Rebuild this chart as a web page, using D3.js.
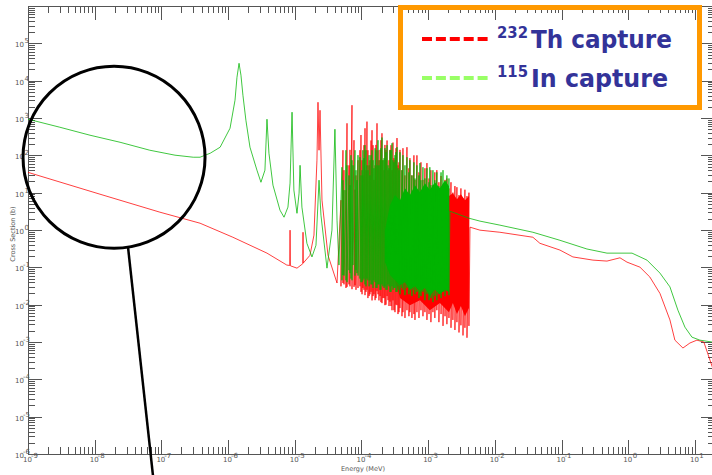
<!DOCTYPE html>
<html>
<head>
<script src="https://d3js.org/d3.v7.min.js"></script>
<style>
  body { margin: 0; background: #fff; }
  svg { display: block; font-family: "DejaVu Sans", sans-serif; }
  .tick-label { font-size: 7px; fill: #555; }
  .axis-title { font-size: 6.5px; fill: #555; }
  .legend-text { font-weight: bold; fill: #333399; }
</style>
</head>
<body>
<svg id="chart" width="712" height="475"></svg>
<script>
// ---- data: energy (MeV), capture cross section (b) ----

// 232Th, smooth 1/v part and first resolved resonances
const thLow = [
  [1e-9, 35], [1.2e-8, 9.1], [9.5e-8, 3.0], [3.8e-7, 1.52], [1.18e-6, 0.64],
  [3.83e-6, 0.24], [7.6e-6, 0.115], [8.4e-6, 0.112], [8.5e-6, 0.99], [8.6e-6, 0.11],
  [1.08e-5, 0.095], [1.32e-5, 0.125], [1.33e-5, 0.87], [1.34e-5, 0.13],
  [1.69e-5, 0.21], [1.94e-5, 0.73], [2.15e-5, 74], [2.23e-5, 2640], [2.31e-5, 137],
  [2.39e-5, 1610], [2.56e-5, 6.3], [3.15e-5, 0.21], [4.3e-5, 0.038]
];
// 232Th, dense resonance region: [energy, peak, valley]
const thResonances = [
  [4.93e-5, 6.3, 0.031], [5.28e-5, 137, 0.038], [5.47e-5, 40, 0.035], [5.86e-5, 11.7, 0.028],
  [6.07e-5, 720, 0.030], [6.50e-5, 54, 0.035], [6.73e-5, 140, 0.031], [7.21e-5, 2200, 0.026],
  [7.73e-5, 254, 0.030], [8.00e-5, 12, 0.033], [8.28e-5, 29, 0.025], [8.87e-5, 74, 0.028],
  [9.50e-5, 137, 0.031], [9.84e-5, 350, 0.022], [1.02e-4, 74, 0.019], [1.05e-4, 29, 0.028],
  [1.09e-4, 187, 0.025], [1.13e-4, 530, 0.018], [1.17e-4, 40, 0.022], [1.21e-4, 800, 0.025],
  [1.25e-4, 137, 0.015], [1.30e-4, 54, 0.017], [1.34e-4, 74, 0.019], [1.39e-4, 250, 0.022],
  [1.44e-4, 470, 0.013], [1.49e-4, 187, 0.017], [1.54e-4, 22, 0.019], [1.60e-4, 54, 0.0132],
  [1.65e-4, 190, 0.015], [1.71e-4, 720, 0.023], [1.77e-4, 137, 0.019], [1.83e-4, 74, 0.013],
  [1.90e-4, 140, 0.017], [1.96e-4, 254, 0.0117], [2.03e-4, 390, 0.011], [2.10e-4, 74, 0.015],
  [2.18e-4, 40, 0.015], [2.25e-4, 190, 0.0097], [2.33e-4, 137, 0.010], [2.42e-4, 250, 0.017],
  [2.50e-4, 40, 0.0132], [2.59e-4, 74, 0.0092], [2.68e-4, 140, 0.012], [2.77e-4, 187, 0.0092],
  [2.87e-4, 40, 0.0071], [2.97e-4, 220, 0.013], [3.07e-4, 84, 0.0071], [3.18e-4, 74, 0.0063],
  [3.29e-4, 155, 0.010], [3.41e-4, 290, 0.0097], [3.53e-4, 54, 0.0056], [3.65e-4, 65, 0.0063],
  [3.78e-4, 140, 0.0081], [4.05e-4, 40, 0.0049],
  [4.19e-4, 155, 0.0063], [4.49e-4, 29, 0.0044], [4.81e-4, 165, 0.0071], [5.15e-4, 45, 0.0049],
  [5.33e-4, 84, 0.0063], [5.71e-4, 29, 0.0044], [6.12e-4, 100, 0.0056], [6.34e-4, 22, 0.0039],
  [6.79e-4, 100, 0.0063], [7.28e-4, 35, 0.0044], [7.80e-4, 65, 0.0071], [8.36e-4, 22, 0.0049],
  [8.95e-4, 45, 0.0063], [9.59e-4, 62, 0.0039], [1.03e-3, 24, 0.0056], [1.10e-3, 40, 0.0034],
  [1.18e-3, 16, 0.0063], [1.26e-3, 35, 0.0044], [1.35e-3, 40, 0.0071], [1.45e-3, 19, 0.0034],
  [1.56e-3, 28, 0.0056], [1.67e-3, 12, 0.0027], [1.79e-3, 22, 0.0049], [1.91e-3, 24, 0.0030],
  [2.05e-3, 13, 0.0044], [2.20e-3, 19, 0.0024], [2.35e-3, 10, 0.0039], [2.52e-3, 15, 0.0021],
  [2.70e-3, 14, 0.0034], [2.90e-3, 8.6, 0.0018], [3.10e-3, 13, 0.0028], [3.33e-3, 7.1, 0.0015],
  [3.56e-3, 12, 0.0024], [3.82e-3, 8.1, 0.0013], [4.09e-3, 10, 0.0027]
];
// 232Th, unresolved core that reads as a solid band: [energy, upper, lower]
const thBand = [
  [3.18e-4, 0.156, 0.045], [3.78e-4, 1.83, 0.015], [5.33e-4, 6.3, 0.0097], [7.53e-4, 8.6, 0.0132],
  [1.06e-3, 7.1, 0.0071], [1.50e-3, 10.3, 0.011], [2.05e-3, 8.1, 0.0063], [2.35e-3, 9.7, 0.011],
  [2.70e-3, 6.7, 0.0056], [3.10e-3, 9.1, 0.0092], [3.56e-3, 6.3, 0.0049], [4.09e-3, 8.1, 0.0081]
];
// 232Th, smooth part above the resonances
const thHigh = [
  [4.24e-3, 1.19], [5.98e-3, 0.99], [0.0119, 0.87], [0.0372, 0.64], [0.0474, 0.44],
  [0.0946, 0.29], [0.148, 0.19], [0.296, 0.156], [0.48, 0.147], [0.752, 0.18],
  [0.957, 0.138], [1.5, 0.101], [2.11, 0.055], [2.99, 0.020], [4.22, 0.0039],
  [5.01, 0.00112], [6.61, 0.00069], [8.41, 0.00094], [10.7, 0.00112], [13.6, 0.0010],
  [16.8, 0.00033], [20, 0.00013]
];

// 115In, smooth part and first resolved resonances
const inLow = [
  [1e-9, 930], [3.0e-9, 566], [8.5e-9, 346], [2.4e-8, 224], [6.7e-8, 137], [1.6e-7, 101],
  [3.0e-7, 89], [3.8e-7, 89], [5.4e-7, 114], [7.6e-7, 165], [1.07e-6, 532], [1.27e-6, 2990],
  [1.36e-6, 12300], [1.46e-6, 29200], [1.56e-6, 14000], [1.67e-6, 4070], [1.85e-6, 871],
  [2.13e-6, 165], [2.71e-6, 40], [3.11e-6, 19], [3.57e-6, 40], [3.83e-6, 927], [4.1e-6, 114],
  [4.71e-6, 15.9], [6.0e-6, 3.4], [6.9e-6, 2.2], [7.9e-6, 4.1], [8.5e-6, 18], [9.1e-6, 1430],
  [9.7e-6, 11.7], [1.08e-5, 2.8], [1.16e-5, 9.7], [1.2e-5, 54], [1.28e-5, 4.1], [1.52e-5, 0.44],
  [1.81e-5, 0.19], [2.08e-5, 0.39], [2.31e-5, 21.6], [2.47e-5, 2.5], [3.04e-5, 0.095],
  [3.61e-5, 0.99], [4.0e-5, 500], [4.3e-5, 1.83], [4.6e-5, 0.115]
];
// 115In, dense resonance region: [energy, peak, valley]
const inResonances = [
  [5.10e-5, 48, 0.045], [5.28e-5, 21.6, 0.062], [5.47e-5, 11.7, 0.06], [5.86e-5, 137, 0.045],
  [6.07e-5, 54, 0.04], [6.50e-5, 29, 0.084], [6.73e-5, 15.9, 0.07], [6.96e-5, 101, 0.05],
  [7.21e-5, 74, 0.045], [7.46e-5, 54, 0.115], [8.00e-5, 137, 0.06], [8.28e-5, 40, 0.084],
  [8.57e-5, 21.6, 0.07], [8.87e-5, 101, 0.06], [9.50e-5, 89, 0.05], [9.84e-5, 29, 0.04],
  [1.02e-4, 40, 0.04], [1.05e-4, 137, 0.045], [1.09e-4, 84, 0.05], [1.13e-4, 187, 0.035],
  [1.17e-4, 137, 0.031], [1.21e-4, 54, 0.05], [1.25e-4, 40, 0.045], [1.30e-4, 101, 0.031],
  [1.34e-4, 29, 0.045], [1.39e-4, 101, 0.035], [1.44e-4, 137, 0.035], [1.49e-4, 74, 0.028],
  [1.54e-4, 45, 0.045], [1.60e-4, 155, 0.04], [1.65e-4, 137, 0.028], [1.71e-4, 54, 0.028],
  [1.77e-4, 254, 0.035], [1.83e-4, 54, 0.035], [1.90e-4, 74, 0.025], [1.96e-4, 155, 0.025],
  [2.03e-4, 300, 0.035], [2.10e-4, 74, 0.031], [2.18e-4, 84, 0.028], [2.25e-4, 155, 0.031],
  [2.33e-4, 121, 0.025], [2.42e-4, 187, 0.025], [2.50e-4, 54, 0.035], [2.59e-4, 45, 0.031],
  [2.68e-4, 137, 0.022], [2.77e-4, 137, 0.022], [2.87e-4, 210, 0.031], [2.97e-4, 74, 0.025],
  [3.07e-4, 65, 0.028], [3.18e-4, 101, 0.028], [3.29e-4, 121, 0.022], [3.41e-4, 165, 0.022],
  [3.53e-4, 45, 0.031], [3.65e-4, 40, 0.025],
  [3.78e-4, 121, 0.019], [4.05e-4, 40, 0.028], [4.19e-4, 101, 0.025], [4.49e-4, 54, 0.018],
  [4.81e-4, 89, 0.028], [5.15e-4, 35, 0.019], [5.33e-4, 74, 0.025], [5.71e-4, 29, 0.017],
  [6.12e-4, 65, 0.025], [6.34e-4, 24, 0.019], [6.79e-4, 54, 0.022], [7.28e-4, 29, 0.015],
  [7.53e-4, 62, 0.020], [7.80e-4, 21.6, 0.017], [8.36e-4, 48, 0.022], [8.95e-4, 24, 0.0132],
  [9.59e-4, 45, 0.019], [1.03e-3, 19, 0.0132], [1.06e-3, 48, 0.017], [1.10e-3, 15.9, 0.015],
  [1.18e-3, 40, 0.0117], [1.26e-3, 21.6, 0.017], [1.35e-3, 35, 0.0132], [1.45e-3, 14.9, 0.019],
  [1.56e-3, 35, 0.015], [1.67e-3, 40, 0.022], [1.79e-3, 15.9, 0.017], [1.91e-3, 29, 0.025],
  [2.05e-3, 24, 0.018]
];
// 115In, unresolved core that reads as a solid band: [energy, upper, lower]
const inBand = [
  [2.25e-4, 0.99, 0.138], [2.68e-4, 4.6, 0.062], [3.18e-4, 8.6, 0.045], [3.78e-4, 6.3, 0.033],
  [4.49e-4, 13.2, 0.040], [5.33e-4, 8.6, 0.025], [6.34e-4, 15.9, 0.031], [7.53e-4, 10.3, 0.022],
  [8.95e-4, 17.9, 0.028], [1.06e-3, 11.7, 0.017], [1.26e-3, 19, 0.025], [1.50e-3, 13.2, 0.019],
  [1.79e-3, 21.6, 0.025], [2.05e-3, 14.9, 0.022]
];
// 115In, smooth part above the resonances
const inHigh = [
  [2.12e-3, 3.2], [4.09e-3, 2.07], [5.98e-3, 1.73], [0.0119, 1.35], [0.0372, 0.87],
  [0.0946, 0.53], [0.24, 0.31], [0.48, 0.24], [1.14, 0.24], [1.91, 0.156], [2.99, 0.070],
  [4.22, 0.030], [5.56, 0.0071], [7.08, 0.0025], [9.02, 0.00135], [11.9, 0.00112],
  [18, 0.0010], [20, 0.0010]
];

const xDecades = d3.range(-9, 2);   // tick labels 10^-9 ... 10^1
const yDecades = d3.range(-6, 6);   // tick labels 10^-6 ... 10^5

const legendItems = [
  { mass: "232", label: "Th capture", color: "#ff0000" },
  { mass: "115", label: "In capture", color: "#99ff66" }
];

// ---- drawing ----
const svg = d3.select("#chart");
const plotLeft = 28, plotRight = 715, plotTop = 6, plotBottom = 454;

const x = d3.scaleLog().domain([1e-9, 20]).range([plotLeft, plotRight]);
const y = d3.scaleLog().domain([1e-6, 1e6]).range([plotBottom, plotTop]);

const isMajor = v => Math.abs(Math.log10(v) - Math.round(Math.log10(v))) < 1e-6;

// frame
svg.append("rect")
  .attr("x", plotLeft + 0.5).attr("y", plotTop + 0.5)
  .attr("width", plotRight - plotLeft).attr("height", plotBottom - plotTop)
  .attr("fill", "none").attr("stroke", "#555").attr("stroke-width", 1);

// ticks on all four sides
const tickColor = "#555";
x.ticks(40).forEach(v => {
  const px = Math.round(x(v)) + 0.5;
  const len = isMajor(v) ? 14 : 7;
  svg.append("line").attr("x1", px).attr("x2", px)
    .attr("y1", plotBottom).attr("y2", plotBottom - len).attr("stroke", tickColor);
  svg.append("line").attr("x1", px).attr("x2", px)
    .attr("y1", plotTop).attr("y2", plotTop + len).attr("stroke", tickColor);
});
y.ticks(40).forEach(v => {
  const py = Math.round(y(v)) + 0.5;
  const len = isMajor(v) ? 14 : 7;
  svg.append("line").attr("y1", py).attr("y2", py)
    .attr("x1", plotLeft).attr("x2", plotLeft + len).attr("stroke", tickColor);
  svg.append("line").attr("y1", py).attr("y2", py)
    .attr("x1", plotRight).attr("x2", plotRight - len).attr("stroke", tickColor);
});

function powerLabel(g, e) {
  g.append("tspan").text("10");
  g.append("tspan")
    .attr("dy", -4).attr("dx", e < 0 ? -1 : 0.5)
    .text(e < 0 ? "-" + (-e) : e);
}

xDecades.forEach(e => {
  const t = svg.append("text").attr("class", "tick-label")
    .attr("x", x(Math.pow(10, e)) - 5).attr("y", 462);
  powerLabel(t, e);
});
yDecades.forEach(e => {
  const t = svg.append("text").attr("class", "tick-label")
    .attr("x", 15).attr("y", y(Math.pow(10, e)) + 4);
  powerLabel(t, e);
});

svg.append("text").attr("class", "axis-title")
  .attr("x", 363).attr("y", 470.5).attr("text-anchor", "middle")
  .text("Energy (MeV)");
svg.append("text").attr("class", "axis-title")
  .attr("transform", "translate(15,234) rotate(-90)")
  .attr("text-anchor", "middle")
  .text("Cross Section (b)");

// curves
const line = d3.line().x(d => x(d[0])).y(d => y(d[1]));
const band = d3.area().x(d => x(d[0])).y0(d => y(d[2])).y1(d => y(d[1]));
function buildSeries(low, res, high) {
  const sorted = d3.sort(res, r => r[0]);
  return low.concat(sorted.flatMap(r => [[r[0], r[1]], [r[0], r[2]]]), high);
}

const plot = svg.append("g");
plot.append("path").datum(thBand).attr("d", band).attr("fill", "#ff0000");
plot.append("path")
  .datum(buildSeries(thLow, thResonances, thHigh))
  .attr("d", line).attr("fill", "none")
  .attr("stroke", "#ff0000").attr("stroke-width", 1).attr("stroke-opacity", 0.75);
plot.append("path").datum(inBand).attr("d", band).attr("fill", "#00b400");
plot.append("path")
  .datum(buildSeries(inLow, inResonances, inHigh))
  .attr("d", line).attr("fill", "none")
  .attr("stroke", "#00b400").attr("stroke-width", 1).attr("stroke-opacity", 0.75);

// legend
svg.append("rect")
  .attr("x", 400.5).attr("y", 7.5).attr("width", 299).attr("height", 100)
  .attr("fill", "none").attr("stroke", "#ff9900").attr("stroke-width", 5);

legendItems.forEach((d, i) => {
  const cy = 39 + i * 39;
  svg.append("line")
    .attr("x1", 422).attr("x2", 488).attr("y1", cy).attr("y2", cy)
    .attr("stroke", d.color).attr("stroke-width", 4)
    .attr("stroke-dasharray", "10,3.9");
  svg.append("text").attr("class", "legend-text")
    .attr("x", 497).attr("y", cy - 1).attr("font-size", 15)
    .attr("textLength", 31).attr("lengthAdjust", "spacingAndGlyphs")
    .text(d.mass);
  svg.append("text").attr("class", "legend-text")
    .attr("x", 531).attr("y", cy + 8.5).attr("font-size", 24)
    .attr("textLength", i === 0 ? 141 : 137).attr("lengthAdjust", "spacingAndGlyphs")
    .text(d.label);
});

// magnifier annotation over the thermal region
const cx = x(1.95e-8), cyc = y(89);
svg.append("circle")
  .attr("cx", cx).attr("cy", cyc).attr("r", 91)
  .attr("fill", "none").attr("stroke", "#000").attr("stroke-width", 3);
svg.append("line")
  .attr("x1", cx + 14).attr("y1", cyc + 90)
  .attr("x2", cx + 39).attr("y2", 476)
  .attr("stroke", "#000").attr("stroke-width", 2.5);
</script>
</body>
</html>
